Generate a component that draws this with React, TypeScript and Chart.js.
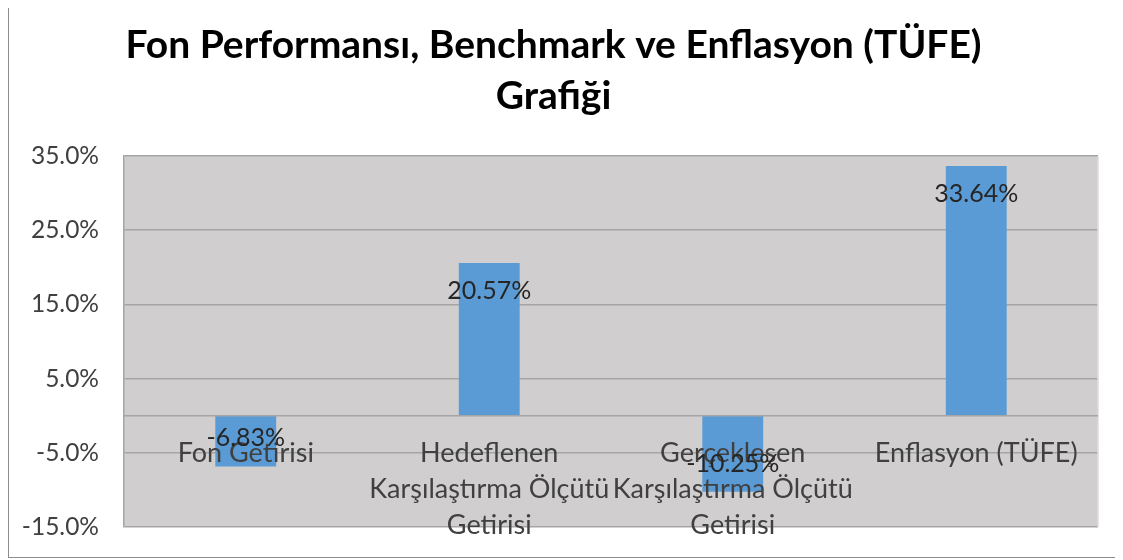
import React, { useEffect, useRef } from "react";
import { Chart, registerables } from "chart.js";

Chart.register(...registerables);

const categories: string[][] = [
  ["Fon Getirisi"],
  ["Hedeflenen", "Karşılaştırma Ölçütü", "Getirisi"],
  ["Gerçekleşen", "Karşılaştırma Ölçütü", "Getirisi"],
  ["Enflasyon (TÜFE)"],
];
const values: number[] = [-6.83, 20.57, -10.25, 33.64];
const titleLines: string[] = ["Fon Performansı, Benchmark ve Enflasyon (TÜFE)", "Grafiği"];
const yMin = -15;
const yMax = 35;
const yStep = 10;

const FONT = "Lato, 'Open Sans', sans-serif";

const decorPlugin = {
  id: "decor",
  beforeDraw(chart: any) {
    const { ctx, chartArea } = chart;
    ctx.save();
    ctx.fillStyle = "#D0CECE";
    ctx.fillRect(chartArea.left, chartArea.top, chartArea.right - chartArea.left, chartArea.bottom - chartArea.top);
    ctx.restore();
  },
  afterDatasetsDraw(chart: any) {
    const { ctx, chartArea, scales } = chart;
    const y = scales.y;
    const x = scales.x;
    const zero = y.getPixelForValue(0);
    ctx.save();
    // right border
    ctx.strokeStyle = "#DCDCDC";
    ctx.lineWidth = 1.5;
    ctx.beginPath();
    ctx.moveTo(chartArea.right, chartArea.top);
    ctx.lineTo(chartArea.right, chartArea.bottom);
    ctx.stroke();
    // zero axis line
    ctx.strokeStyle = "#A5A5A5";
    ctx.beginPath();
    ctx.moveTo(chartArea.left, zero);
    ctx.lineTo(chartArea.right, zero);
    ctx.stroke();

    // category labels
    ctx.fillStyle = "#404040";
    ctx.font = `27px ${FONT}`;
    ctx.textAlign = "center";
    ctx.textBaseline = "middle";
    categories.forEach((lines, i) => {
      const cx = x.getPixelForValue(i);
      lines.forEach((ln, j) => {
        ctx.fillText(ln, cx, zero + 38 + j * 36);
      });
    });

    // data labels
    const meta = chart.getDatasetMeta(0);
    ctx.fillStyle = "#262626";
    ctx.font = `25px ${FONT}`;
    meta.data.forEach((bar: any, i: number) => {
      const v = values[i];
      const yy = v >= 0 ? bar.y + 28 : bar.y - 28;
      ctx.fillText(v.toFixed(2) + "%", bar.x, yy);
    });
    ctx.restore();
  },
};

export default function App() {
  const ref = useRef<HTMLCanvasElement | null>(null);
  useEffect(() => {
    if (!ref.current) return;
    const chart = new Chart(ref.current, {
      type: "bar",
      data: {
        labels: categories.map((c) => c.join(" ")),
        datasets: [
          {
            data: values,
            backgroundColor: "#5B9BD5",
            borderWidth: 0,
            barPercentage: 0.5,
            categoryPercentage: 0.5,
          },
        ],
      },
      options: {
        animation: false,
        responsive: true,
        maintainAspectRatio: false,
        layout: { padding: { left: 0, right: 17, top: 0, bottom: 30 } },
        plugins: {
          legend: { display: false },
          tooltip: { enabled: false },
          title: {
            display: true,
            text: titleLines,
            color: "#000000",
            font: { family: FONT, size: 39, weight: "bold", lineHeight: 1.308 },
            padding: { top: 12, bottom: 34 },
          },
        },
        scales: {
          x: { display: false },
          y: {
            min: yMin,
            max: yMax,
            afterFit: (s: any) => {
              s.width = 115;
              s.paddingTop = 0;
              s.paddingBottom = 0;
            },
            ticks: {
              stepSize: yStep,
              padding: 25,
              color: "#404040",
              font: { family: FONT, size: 24.5 },
              callback: (v: any) => Number(v).toFixed(1) + "%",
            },
            grid: { color: "#A5A5A5", lineWidth: 1.5, drawTicks: false },
            border: { display: true, color: "#A5A5A5", width: 1.5 },
          },
        },
      },
      plugins: [decorPlugin],
    });
    return () => chart.destroy();
  }, []);
  return (
    <div
      style={{
        width: "100%",
        height: 550,
        borderLeft: "1px solid #8C8C8C",
        borderBottom: "1px solid #8C8C8C",
        boxSizing: "border-box",
        position: "relative",
      }}
    >
      <div style={{ position: "relative", width: "100%", height: "100%" }}>
        <canvas ref={ref} />
      </div>
    </div>
  );
}
